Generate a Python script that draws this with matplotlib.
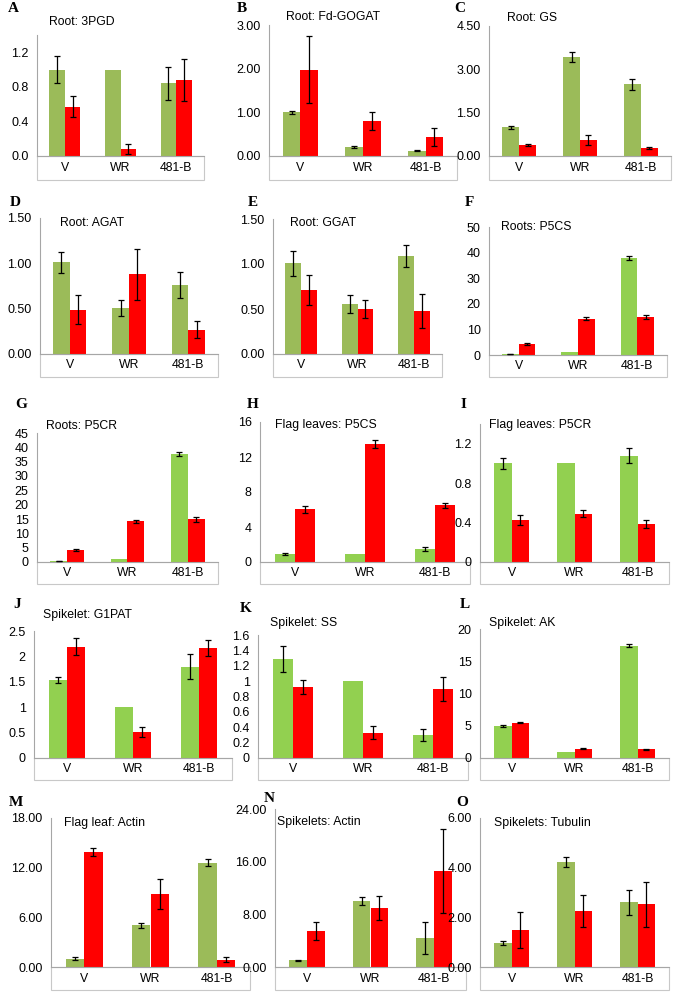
import numpy as np
import matplotlib
matplotlib.use("Agg")
import matplotlib.pyplot as plt
from matplotlib.patches import Rectangle

plt.rcParams["font.family"] = ["Liberation Sans", "DejaVu Sans"]

W, H = 674, 992

categories = ["V", "WR", "481-B"]

# values: mean and half error bar, green then red
a_green = [1.00, 1.00, 0.84]; a_green_err = [0.16, 0, 0.19]
a_red = [0.57, 0.08, 0.88]; a_red_err = [0.12, 0.06, 0.24]
b_green = [1.00, 0.21, 0.12]; b_green_err = [0.04, 0.03, 0.01]
b_red = [1.98, 0.80, 0.44]; b_red_err = [0.76, 0.20, 0.21]
c_green = [1.00, 3.42, 2.48]; c_green_err = [0.05, 0.18, 0.18]
c_red = [0.38, 0.55, 0.28]; c_red_err = [0.04, 0.17, 0.04]
d_green = [1.01, 0.51, 0.76]; d_green_err = [0.12, 0.09, 0.14]
d_red = [0.49, 0.88, 0.27]; d_red_err = [0.16, 0.28, 0.09]
e_green = [1.01, 0.56, 1.09]; e_green_err = [0.14, 0.10, 0.12]
e_red = [0.71, 0.50, 0.48]; e_red_err = [0.17, 0.10, 0.19]
f_green = [0.3, 1.0, 37.8]; f_green_err = [0.1, 0, 0.7]
f_red = [4.3, 14.2, 14.9]; f_red_err = [0.5, 0.6, 0.9]
g_green = [0.3, 0.9, 37.8]; g_green_err = [0.1, 0, 0.7]
g_red = [4.3, 14.2, 14.9]; g_red_err = [0.4, 0.5, 0.8]
h_green = [0.9, 0.95, 1.47]; h_green_err = [0.1, 0, 0.2]
h_red = [6.05, 13.45, 6.5]; h_red_err = [0.4, 0.45, 0.3]
i_green = [1.00, 1.00, 1.08]; i_green_err = [0.06, 0, 0.08]
i_red = [0.43, 0.49, 0.39]; i_red_err = [0.05, 0.035, 0.04]
j_green = [1.54, 1.00, 1.80]; j_green_err = [0.06, 0, 0.25]
j_red = [2.19, 0.52, 2.16]; j_red_err = [0.17, 0.10, 0.16]
k_green = [1.29, 1.00, 0.30]; k_green_err = [0.17, 0, 0.08]
k_red = [0.92, 0.33, 0.90]; k_red_err = [0.09, 0.08, 0.16]
l_green = [4.9, 1.0, 17.4]; l_green_err = [0.15, 0, 0.25]
l_red = [5.5, 1.45, 1.35]; l_red_err = [0.15, 0.1, 0.1]
m_green = [1.0, 5.05, 12.6]; m_green_err = [0.15, 0.3, 0.4]
m_red = [13.9, 8.8, 0.85]; m_red_err = [0.5, 1.8, 0.3]
n_green = [1.0, 10.0, 4.4]; n_green_err = [0.1, 0.65, 2.5]
n_red = [5.5, 9.0, 14.6]; n_red_err = [1.4, 1.8, 6.4]
o_green = [0.98, 4.22, 2.6]; o_green_err = [0.08, 0.2, 0.52]
o_red = [1.5, 2.27, 2.52]; o_red_err = [0.73, 0.64, 0.9]

titles = ["Root: 3PGD", "Root: Fd-GOGAT", "Root: GS",
          "Root: AGAT", "Root: GGAT", "Roots: P5CS",
          "Roots: P5CR", "Flag leaves: P5CS", "Flag leaves: P5CR",
          "Spikelet: G1PAT", "Spikelet: SS", "Spikelet: AK",
          "Flag leaf: Actin", "Spikelets: Actin", "Spikelets: Tubulin"]
letters = list("ABCDEFGHIJKLMNO")

yticks = [
    ([0, 0.4, 0.8, 1.2], ["0.0", "0.4", "0.8", "1.2"], 1.4),
    ([0, 1, 2, 3], ["0.00", "1.00", "2.00", "3.00"], 3.0),
    ([0, 1.5, 3, 4.5], ["0.00", "1.50", "3.00", "4.50"], 4.5),
    ([0, 0.5, 1, 1.5], ["0.00", "0.50", "1.00", "1.50"], 1.5),
    ([0, 0.5, 1, 1.5], ["0.00", "0.50", "1.00", "1.50"], 1.5),
    ([0, 10, 20, 30, 40, 50], ["0", "10", "20", "30", "40", "50"], 50),
    (list(range(0, 50, 5)), [str(v) for v in range(0, 50, 5)], 45),
    ([0, 4, 8, 12, 16], ["0", "4", "8", "12", "16"], 16),
    ([0, 0.4, 0.8, 1.2], ["0", "0.4", "0.8", "1.2"], 1.4),
    ([0, 0.5, 1, 1.5, 2, 2.5], ["0", "0.5", "1", "1.5", "2", "2.5"], 2.5),
    ([0, 0.2, 0.4, 0.6, 0.8, 1, 1.2, 1.4, 1.6],
     ["0", "0.2", "0.4", "0.6", "0.8", "1", "1.2", "1.4", "1.6"], 1.6),
    ([0, 5, 10, 15, 20], ["0", "5", "10", "15", "20"], 20),
    ([0, 6, 12, 18], ["0.00", "6.00", "12.00", "18.00"], 18),
    ([0, 8, 16, 24], ["0.00", "8.00", "16.00", "24.00"], 24),
    ([0, 2, 4, 6], ["0.00", "2.00", "4.00", "6.00"], 6),
]

series = [
    (a_green, a_green_err, a_red, a_red_err), (b_green, b_green_err, b_red, b_red_err),
    (c_green, c_green_err, c_red, c_red_err), (d_green, d_green_err, d_red, d_red_err),
    (e_green, e_green_err, e_red, e_red_err), (f_green, f_green_err, f_red, f_red_err),
    (g_green, g_green_err, g_red, g_red_err), (h_green, h_green_err, h_red, h_red_err),
    (i_green, i_green_err, i_red, i_red_err), (j_green, j_green_err, j_red, j_red_err),
    (k_green, k_green_err, k_red, k_red_err), (l_green, l_green_err, l_red, l_red_err),
    (m_green, m_green_err, m_red, m_red_err), (n_green, n_green_err, n_red, n_red_err),
    (o_green, o_green_err, o_red, o_red_err),
]

olive = "#9BBB59"
bright = "#92D050"
green_cols = [olive] * 5 + [bright] * 7 + [olive] * 3

# layout in pixels: axis x, box right, zero y, top y, box bottom
layout = [
    (37, 204, 156, 35, 180), (269, 457, 156, 25, 180), (489, 671, 156, 26, 180),
    (40, 218, 354, 218, 377), (273, 442, 354, 219, 377), (489, 667, 355, 227, 377),
    (37, 218, 562, 433, 584), (260, 470, 562, 422, 584), (480, 669, 562, 424, 584),
    (34, 232, 758, 631, 780), (258, 468, 758, 635, 780), (480, 669, 758, 629, 780),
    (51, 250, 967, 818, 990), (275, 466, 967, 809, 990), (480, 669, 967, 818, 990),
]
title_pos = [(49, 22), (286, 17), (507, 18), (60, 223), (290, 223), (501, 227),
             (46, 426), (275, 425), (489, 425), (43, 615), (270, 623), (489, 623),
             (64, 823), (277, 822), (494, 823)]
letter_pos = [(8, 8), (237, 8), (454, 8), (10, 203), (248, 203), (465, 202),
              (15, 405), (247, 405), (461, 405), (13, 605), (240, 608), (460, 605),
              (9, 802), (264, 798), (456, 802)]

fig = plt.figure(figsize=(W / 100, H / 100), dpi=100)
x = np.arange(len(categories))
bw = 0.28

for k in range(15):
    x0, x1, y0, yt, yb = layout[k]
    ax = fig.add_axes([x0 / W, (H - y0) / H, (x1 - x0) / W, (y0 - yt) / H])
    g, ge, r, re = series[k]
    ax.bar(x - bw / 2, g, bw, color=green_cols[k], zorder=2)
    ax.bar(x + bw / 2, r, bw, color="#FF0000", zorder=2)
    for xs, vals, errs in [(x - bw / 2, g, ge), (x + bw / 2, r, re)]:
        keep = np.array(errs) > 0
        ax.errorbar(np.array(xs)[keep], np.array(vals)[keep], yerr=np.array(errs)[keep],
                    fmt="none", ecolor="black", elinewidth=0.9, capsize=2.2,
                    capthick=0.9, zorder=3)
    ticks, labels, top = yticks[k]
    ax.set_ylim(0, top)
    ax.set_xlim(-0.5, 2.5)
    ax.set_yticks(ticks)
    ax.set_yticklabels(labels, fontsize=9)
    ax.tick_params(axis="y", length=0, pad=6)
    ax.set_xticks([])
    for s in ["top", "right"]:
        ax.spines[s].set_visible(False)
    ax.spines["left"].set_color("#A6A6A6")
    ax.spines["bottom"].set_color("#A6A6A6")
    ax.spines["left"].set_linewidth(0.8)
    ax.spines["bottom"].set_linewidth(0.8)
    frac = (yb - y0) / (y0 - yt)
    ax.add_patch(Rectangle((0, -frac), 1, frac, transform=ax.transAxes, fill=False,
                           edgecolor="#C8C8C8", linewidth=0.8, clip_on=False))
    for i, c in enumerate(categories):
        ax.text(i, -frac / 2, c, transform=ax.get_xaxis_transform(), ha="center",
                va="center", fontsize=8.8)
    tx, ty = title_pos[k]
    fig.text(tx / W, 1 - ty / H, titles[k], fontsize=8.8, ha="left", va="center")
    lx, ly = letter_pos[k]
    fig.text(lx / W, 1 - ly / H, letters[k], fontsize=11, fontweight="bold",
             family="Liberation Serif", ha="left", va="center")

fig.savefig("out.png", dpi=100)
